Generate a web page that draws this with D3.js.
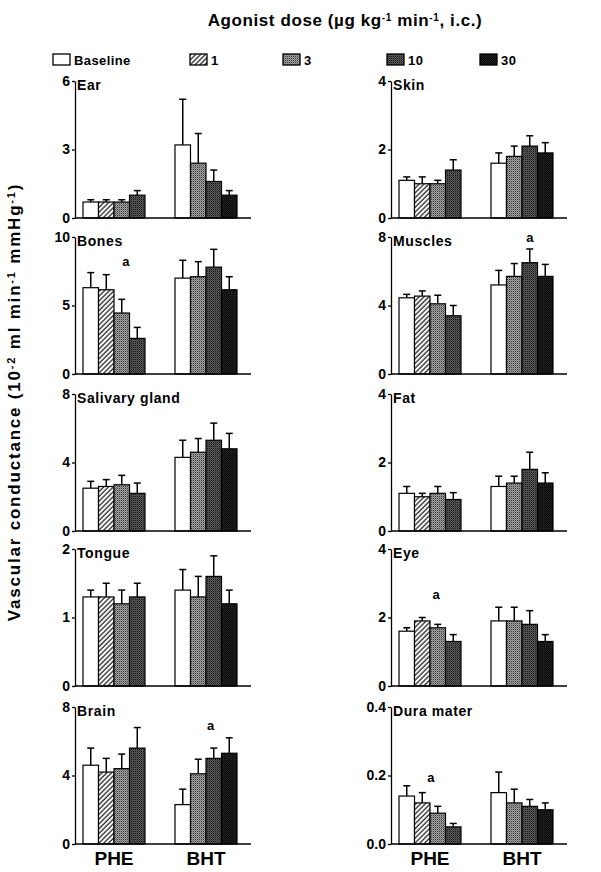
<!DOCTYPE html>
<html><head><meta charset="utf-8">
<script src="https://cdn.jsdelivr.net/npm/d3@7"></script>
<style>body{margin:0;background:#fff} svg text{font-family:"Liberation Sans",Arial,sans-serif;font-weight:bold;fill:#000}</style>
</head><body><svg id="c" width="601" height="872"></svg>
<script>
// ---------- data ----------
const groups = ["PHE", "BHT"];
const legendDoses = ["Baseline", "1", "3", "10", "30"];
const pheDoses = ["Baseline", "1", "3", "10"];
const bhtDoses = ["Baseline", "3", "10", "30"];
const organs = ["Ear", "Bones", "Salivary gland", "Tongue", "Brain", "Skin", "Muscles", "Fat", "Eye", "Dura mater"];
const yMaxes = [6, 10, 8, 2, 8, 4, 8, 4, 4, 0.4];
const pheMeans = [
  [0.7, 0.7, 0.7, 1.0],
  [6.3, 6.15, 4.45, 2.6],
  [2.5, 2.6, 2.7, 2.2],
  [1.3, 1.3, 1.2, 1.3],
  [4.6, 4.2, 4.4, 5.6],
  [1.1, 1.0, 1.0, 1.4],
  [4.45, 4.55, 4.1, 3.4],
  [1.1, 1.0, 1.1, 0.92],
  [1.6, 1.9, 1.7, 1.3],
  [0.14, 0.12, 0.09, 0.05]
];
const pheSems = [
  [0.1, 0.1, 0.1, 0.2],
  [1.1, 1.1, 1.0, 0.8],
  [0.4, 0.4, 0.55, 0.6],
  [0.1, 0.2, 0.2, 0.2],
  [1.0, 0.8, 0.85, 1.2],
  [0.1, 0.2, 0.1, 0.3],
  [0.2, 0.3, 0.5, 0.6],
  [0.2, 0.1, 0.2, 0.2],
  [0.1, 0.1, 0.1, 0.2],
  [0.03, 0.03, 0.02, 0.01]
];
const bhtMeans = [
  [3.2, 2.4, 1.6, 1.0],
  [7.0, 7.1, 7.8, 6.15],
  [4.3, 4.6, 5.3, 4.8],
  [1.4, 1.3, 1.6, 1.2],
  [2.3, 4.1, 5.0, 5.3],
  [1.6, 1.8, 2.1, 1.9],
  [5.2, 5.7, 6.5, 5.7],
  [1.3, 1.4, 1.8, 1.4],
  [1.9, 1.9, 1.8, 1.3],
  [0.15, 0.12, 0.11, 0.10]
];
const bhtSems = [
  [2.0, 1.3, 0.5, 0.2],
  [1.3, 1.1, 1.3, 0.95],
  [1.0, 0.8, 1.0, 0.9],
  [0.3, 0.3, 0.3, 0.2],
  [0.9, 0.85, 0.6, 0.9],
  [0.3, 0.3, 0.3, 0.3],
  [0.85, 0.75, 0.8, 0.7],
  [0.3, 0.2, 0.5, 0.3],
  [0.4, 0.4, 0.4, 0.2],
  [0.06, 0.04, 0.02, 0.02]
];
// significance marks: organ, group, position in bar widths from group start, value (data units)
const marks = [
  {organ: "Bones", group: "PHE", pos: 2.77, value: 8.25},
  {organ: "Muscles", group: "BHT", pos: 2.5, value: 8.0},
  {organ: "Eye", group: "PHE", pos: 2.4, value: 2.66},
  {organ: "Brain", group: "BHT", pos: 2.3, value: 6.95},
  {organ: "Dura mater", group: "PHE", pos: 2.06, value: 0.193}
];

// ---------- layout ----------
const colX = [75, 391];
const rowBase = [218, 374, 531, 686, 844];
const panelH = 137;
const panelW = 176;

const svg = d3.select("#c");
const defs = svg.append("defs");

// patterns
const hatch = defs.append("pattern").attr("id", "p1").attr("patternUnits", "userSpaceOnUse")
  .attr("width", 3.4).attr("height", 3.4).attr("patternTransform", "rotate(45)");
hatch.append("rect").attr("width", 3.4).attr("height", 3.4).attr("fill", "#fff");
hatch.append("line").attr("x1", 1).attr("y1", 0).attr("x2", 1).attr("y2", 3.4).attr("stroke", "#000").attr("stroke-width", 1.1);

function stipple(id, bg, dot) {
  const p = defs.append("pattern").attr("id", id).attr("patternUnits", "userSpaceOnUse").attr("width", 2).attr("height", 2);
  p.append("rect").attr("width", 2).attr("height", 2).attr("fill", bg);
  p.append("rect").attr("width", 1).attr("height", 1).attr("fill", dot);
  p.append("rect").attr("x", 1).attr("y", 1).attr("width", 1).attr("height", 1).attr("fill", d3.interpolateRgb(bg, dot)(0.4));
}
stipple("p3", "#a2a2a2", "#3a3a3a");
stipple("p10", "#5c5c5c", "#111111");
stipple("p30", "#0c0c0c", "#2a2a2a");

const fillFor = d3.scaleOrdinal().domain(legendDoses)
  .range(["#fff", "url(#p1)", "url(#p3)", "url(#p10)", "url(#p30)"]);

// ---------- titles ----------
const t = svg.append("text").attr("x", 345).attr("y", 26).attr("text-anchor", "middle")
  .style("font-size", "17px").style("letter-spacing", "0.6px");
t.append("tspan").text("Agonist dose (µg kg");
t.append("tspan").attr("dy", -5).style("font-size", "10px").text("-1");
t.append("tspan").attr("dy", 5).text(" min");
t.append("tspan").attr("dy", -5).style("font-size", "10px").text("-1");
t.append("tspan").attr("dy", 5).text(", i.c.)");

const yt = svg.append("text").attr("transform", "translate(20,402) rotate(-90)")
  .attr("text-anchor", "middle").style("font-size", "17px").style("letter-spacing", "1.8px");
yt.append("tspan").text("Vascular conductance (10");
yt.append("tspan").attr("dy", -5).style("font-size", "11px").text("-2");
yt.append("tspan").attr("dy", 5).text(" ml min");
yt.append("tspan").attr("dy", -5).style("font-size", "11px").text("-1");
yt.append("tspan").attr("dy", 5).text(" mmHg");
yt.append("tspan").attr("dy", -5).style("font-size", "11px").text("-1");
yt.append("tspan").attr("dy", 5).text(")");

// legend
const legendX = d3.scaleOrdinal().domain(legendDoses).range([53, 190, 283, 387, 480]);
const lg = svg.append("g").selectAll("g").data(legendDoses).join("g")
  .attr("transform", d => `translate(${legendX(d)},54)`);
lg.append("rect").attr("width", 17).attr("height", 11)
  .attr("fill", d => fillFor(d)).attr("stroke", "#000").attr("stroke-width", 1.3);
lg.append("text").attr("x", 21).attr("y", 11).style("font-size", "13px").style("letter-spacing", "0.4px").text(d => d);

// ---------- panels ----------
const x0 = d3.scaleBand().domain(groups).range([0, 170]).paddingInner(0.326).paddingOuter(0.087);
const x1 = d3.scaleBand().domain([0, 1, 2, 3]).range([0, x0.bandwidth()]).padding(0);

organs.forEach((organ, i) => {
  const col = i < 5 ? 0 : 1, row = i % 5;
  const max = yMaxes[i];
  const g = svg.append("g").attr("transform", `translate(${colX[col]},${rowBase[row] - panelH})`);
  const y = d3.scaleLinear().domain([0, max]).range([panelH, 0]);

  const data = [];
  pheDoses.forEach((d, j) => data.push({group: "PHE", j, dose: d, mean: pheMeans[i][j], sem: pheSems[i][j]}));
  bhtDoses.forEach((d, j) => data.push({group: "BHT", j, dose: d, mean: bhtMeans[i][j], sem: bhtSems[i][j]}));

  const bx = d => x0(d.group) + x1(d.j);
  const cx = d => bx(d) + x1.bandwidth() / 2;

  // error bars
  g.selectAll(".err").data(data).join("line")
    .attr("x1", cx).attr("x2", cx)
    .attr("y1", d => y(d.mean)).attr("y2", d => y(d.mean + d.sem))
    .attr("stroke", "#000").attr("stroke-width", 1.5);
  g.selectAll(".cap").data(data).join("line")
    .attr("x1", d => cx(d) - 3.5).attr("x2", d => cx(d) + 3.5)
    .attr("y1", d => y(d.mean + d.sem)).attr("y2", d => y(d.mean + d.sem))
    .attr("stroke", "#000").attr("stroke-width", 1.5);

  // bars
  g.selectAll(".bar").data(data).join("rect")
    .attr("x", bx).attr("width", x1.bandwidth())
    .attr("y", d => y(d.mean)).attr("height", d => y(0) - y(d.mean))
    .attr("fill", d => fillFor(d.dose)).attr("stroke", "#000").attr("stroke-width", 1.2);

  // baseline
  g.append("line").attr("x1", 0).attr("x2", panelW).attr("y1", y(0)).attr("y2", y(0))
    .attr("stroke", "#000").attr("stroke-width", 1.3);

  // y axis
  const ax = g.append("g").call(d3.axisLeft(y).tickValues([0, max / 2, max])
    .tickSize(3).tickPadding(2).tickSizeOuter(0)
    .tickFormat(max < 1 ? d3.format(".1f") : d3.format("d")));
  ax.select(".domain").attr("stroke-width", 1.3);
  ax.selectAll(".tick line").attr("stroke-width", 1.3);
  ax.selectAll("text").style("font-size", "14px").style("font-family", "'Liberation Sans',Arial,sans-serif")
    .style("font-weight", "bold").attr("fill", "#000");

  // panel title
  g.append("text").attr("x", 2).attr("y", y(max) + 9).style("font-size", "14px")
    .style("letter-spacing", "0.6px").text(organ);

  // significance marks
  marks.filter(m => m.organ === organ).forEach(m => {
    g.append("text").attr("x", x0(m.group) + m.pos * x1.bandwidth()).attr("y", y(m.value))
      .attr("dy", "0.35em").attr("text-anchor", "middle").style("font-size", "13px").text("a");
  });

  // group labels on bottom row
  if (row === 4) {
    g.selectAll(".gl").data(groups).join("text")
      .attr("x", d => x0(d) + x0.bandwidth() / 2).attr("y", y(0) + 21)
      .attr("text-anchor", "middle").style("font-size", "19px").text(d => d);
  }
});
</script></body></html>
